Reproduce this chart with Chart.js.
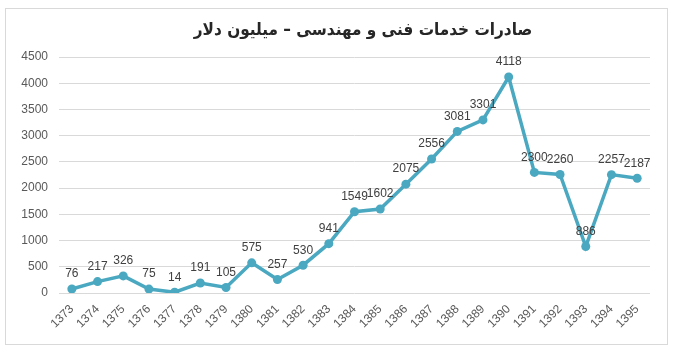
<!DOCTYPE html>
<html>
<head>
<meta charset="utf-8">
<script src="https://cdn.jsdelivr.net/npm/chart.js@4"></script>
<style>
  html, body { margin: 0; padding: 0; background: #fff; }
  #wrap { width: 673px; height: 353px; }
</style>
</head>
<body>
<div id="wrap"><canvas id="exportChart" width="673" height="353"></canvas></div>
<script>
const years = ['1373','1374','1375','1376','1377','1378','1379','1380','1381','1382','1383','1384',
               '1385','1386','1387','1388','1389','1390','1391','1392','1393','1394','1395'];
const exports = [76,217,326,75,14,191,105,575,257,530,941,1549,1602,2075,2556,3081,3301,4118,2300,2260,886,2257,2187];
const yTicks = [0,500,1000,1500,2000,2500,3000,3500,4000,4500];
const chartTitle = 'صادرات خدمات فنی و مهندسی – میلیون دلار';

// frame + title + value labels
const decorations = {
  id: 'decorations',
  beforeDraw(chart) {
    const c = chart.ctx;
    c.save();
    c.fillStyle = '#fff';
    c.fillRect(0, 0, chart.width, chart.height);
    c.strokeStyle = '#d9d9d9';
    c.lineWidth = 1;
    c.strokeRect(5.5, 8.5, 662, 336);
    c.restore();
  },
  afterDatasetsDraw(chart) {
    const c = chart.ctx;
    c.save();
    c.font = 'bold 17px "DejaVu Sans Condensed", "DejaVu Sans"';
    c.fillStyle = '#262626';
    c.textAlign = 'center';
    c.textBaseline = 'middle';
    c.direction = 'rtl';
    c.fillText(chartTitle, 363, 31);

    c.direction = 'ltr';
    c.font = '12px "Liberation Sans"';
    c.fillStyle = '#404040';
    c.textBaseline = 'bottom';
    const meta = chart.getDatasetMeta(0);
    meta.data.forEach((pt, i) => {
      c.fillText(String(exports[i]), pt.x, pt.y - 9);
    });
    c.restore();
  }
};

new Chart(document.getElementById('exportChart').getContext('2d'), {
  type: 'line',
  data: {
    labels: years,
    datasets: [{
      data: exports,
      borderColor: '#4aa8c0',
      backgroundColor: '#4aa8c0',
      borderWidth: 3.5,
      pointRadius: 4.5,
      pointBorderWidth: 0,
      tension: 0
    }]
  },
  options: {
    responsive: false,
    animation: false,
    layout: { padding: { left: 0, right: 23, top: 57, bottom: 0 } },
    plugins: {
      legend: { display: false },
      tooltip: { enabled: false },
      title: { display: false }
    },
    scales: {
      x: {
        offset: true,
        grid: { display: false, drawTicks: false },
        border: { display: false },
        ticks: {
          color: '#595959',
          font: { family: 'Liberation Sans', size: 12 },
          minRotation: 45,
          maxRotation: 45,
          padding: 9,
          autoSkip: false
        },
        afterFit(scale) { scale.height = 60; }
      },
      y: {
        min: 0,
        max: 4500,
        afterBuildTicks(scale) { scale.ticks = yTicks.map(v => ({ value: v })); },
        grid: { color: '#d9d9d9', drawTicks: false },
        border: { display: false },
        ticks: {
          color: '#595959',
          font: { family: 'Liberation Sans', size: 12 },
          padding: 11,
          callback: v => String(v)
        },
        afterFit(scale) { scale.width = 59; }
      }
    }
  },
  plugins: [decorations]
});
</script>
</body>
</html>
